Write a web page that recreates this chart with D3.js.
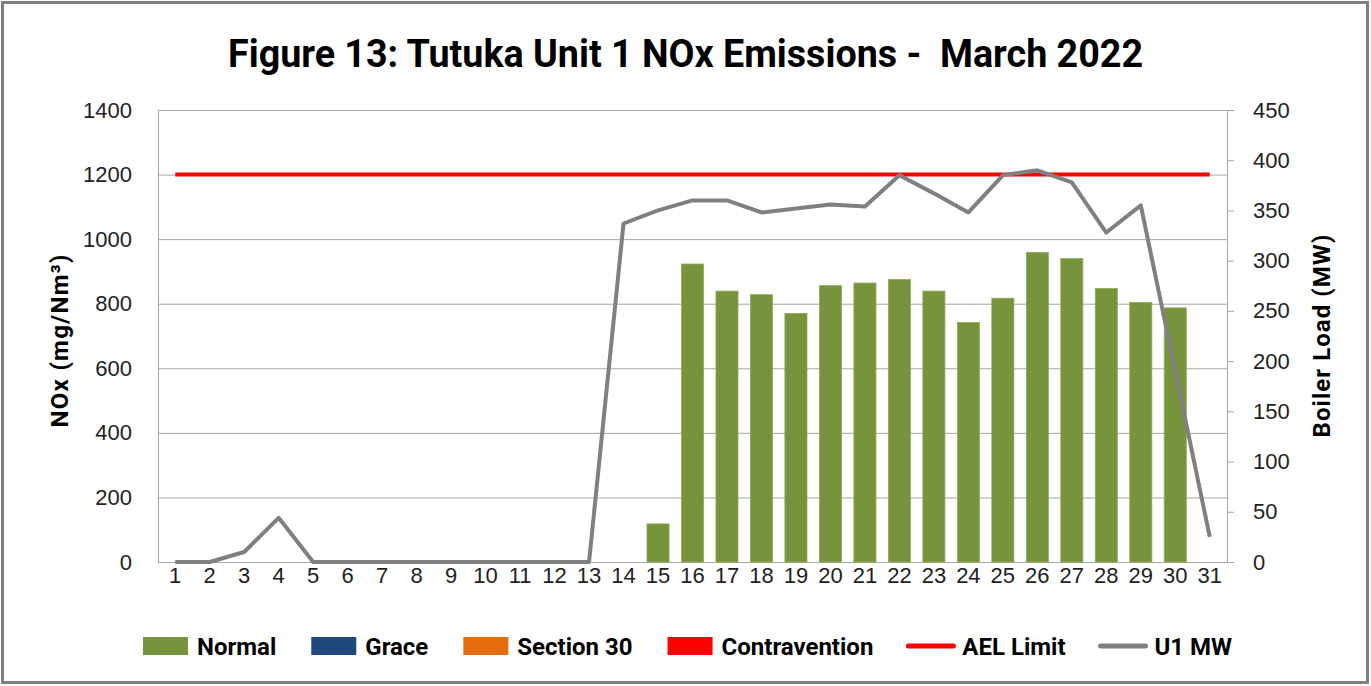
<!DOCTYPE html>
<html>
<head>
<meta charset="utf-8">
<script src="https://cdn.jsdelivr.net/npm/d3@7"></script>
<style>
    body { margin: 0; background: #fff; }
    svg { display: block; font-family: Roboto, 'Liberation Sans', sans-serif; }
    .axis text { font-size: 22px; fill: #222; }
    .axis path, .axis line { stroke: #a6a6a6; }
</style>
</head>
<body>
<div id="chart"></div>
<script>
// Day labels along the x axis
var days = ['1','2','3','4','5','6','7','8','9','10','11','12','13','14','15','16',
            '17','18','19','20','21','22','23','24','25','26','27','28','29','30','31'];

// NOx (mg/Nm3) per day, by category
var normal = [null,null,null,null,null,null,null,null,null,null,null,null,null,null,
              118,923,839,828,770,856,864,875,839,742,817,959,940,847,804,787,null];
var grace = [];
var section30 = [];
var contravention = [];

// AEL limit (mg/Nm3) and unit load (MW)
var aelLimit = [1200,1200,1200,1200,1200,1200,1200,1200,1200,1200,1200,1200,1200,1200,1200,1200,
                1200,1200,1200,1200,1200,1200,1200,1200,1200,1200,1200,1200,1200,1200,1200];
var u1MW = [0,0,10,44,0,0,0,0,0,0,0,0,0,337,350,360,360,348,352,356,354,385,367,348,385,390,378,328,355,190,25];

var leftTicks = [0,200,400,600,800,1000,1200,1400];
var rightTicks = [0,50,100,150,200,250,300,350,400,450];

var legendItems = [
    {name: 'Normal', type: 'rect', color: '#77933c'},
    {name: 'Grace', type: 'rect', color: '#1f497d'},
    {name: 'Section 30', type: 'rect', color: '#e46c0a'},
    {name: 'Contravention', type: 'rect', color: '#ff0000'},
    {name: 'AEL Limit', type: 'line', color: '#ff0000'},
    {name: 'U1 MW', type: 'line', color: '#808080'}
];

var width = 1371, height = 686;
var plot = {left: 158, right: 1227, top: 110, bottom: 562};

var svg = d3.select('#chart').append('svg')
    .attr('width', width)
    .attr('height', height);

// Outer frame
svg.append('rect')
    .attr('x', 2.5).attr('y', 2.5)
    .attr('width', width - 6).attr('height', height - 6)
    .attr('fill', '#fff')
    .attr('stroke', '#808080')
    .attr('stroke-width', 3);

// Title
svg.append('text')
    .attr('x', 685.5)
    .attr('y', 67)
    .attr('text-anchor', 'middle')
    .attr('font-size', 39)
    .attr('font-weight', 'bold')
    .attr('textLength', 915)
    .attr('lengthAdjust', 'spacingAndGlyphs')
    .style('white-space', 'pre')
    .text('Figure 13: Tutuka Unit 1 NOx Emissions -  March 2022');

// Scales
var xScale = d3.scaleBand().domain(days)
    .range([plot.left, plot.right])
    .paddingInner(0.36).paddingOuter(0.18);
var yScale = d3.scaleLinear().domain([0, 1400]).range([plot.bottom, plot.top]);
var yRight = d3.scaleLinear().domain([0, 450]).range([plot.bottom, plot.top]);

// Left axis with gridlines
var yAxis = d3.axisLeft(yScale).tickValues(leftTicks).tickFormat(d3.format('d'))
    .tickSize(-(plot.right - plot.left)).tickSizeOuter(0).tickPadding(26);
svg.append('g')
    .attr('class', 'axis y-axis')
    .attr('transform', 'translate(' + plot.left + ',0)')
    .call(yAxis);

// Right axis
var yAxisRight = d3.axisRight(yRight).tickValues(rightTicks).tickFormat(d3.format('d'))
    .tickSize(7).tickSizeOuter(0).tickPadding(19);
svg.append('g')
    .attr('class', 'axis y-right')
    .attr('transform', 'translate(' + plot.right + ',0)')
    .call(yAxisRight);

// Bottom axis
var xAxis = d3.axisBottom(xScale).tickSize(0).tickPadding(5);
svg.append('g')
    .attr('class', 'axis x-axis')
    .attr('transform', 'translate(0,' + plot.bottom + ')')
    .call(xAxis);

// Axis titles
svg.append('text')
    .attr('transform', 'translate(68,341) rotate(-90)')
    .attr('text-anchor', 'middle')
    .attr('font-size', 24)
    .attr('font-weight', 'bold')
    .attr('textLength', 173)
    .attr('lengthAdjust', 'spacing')
    .text('NOx (mg/Nm³)');

svg.append('text')
    .attr('transform', 'translate(1330,336) rotate(-90)')
    .attr('text-anchor', 'middle')
    .attr('font-size', 24)
    .attr('font-weight', 'bold')
    .attr('textLength', 203)
    .attr('lengthAdjust', 'spacing')
    .text('Boiler Load (MW)');

// Bars
var barData = days.map(function(d, i) { return {day: d, v: normal[i]}; })
    .filter(function(d) { return d.v != null; });

svg.append('g').selectAll('rect')
    .data(barData)
    .enter().append('rect')
    .attr('x', function(d) { return xScale(d.day); })
    .attr('y', function(d) { return yScale(d.v); })
    .attr('width', xScale.bandwidth())
    .attr('height', function(d) { return plot.bottom - yScale(d.v); })
    .attr('fill', '#77933c')
    .attr('stroke', '#8fab55')
    .attr('stroke-width', 0.8);

// Lines
var cx = function(d, i) { return xScale(days[i]) + xScale.bandwidth() / 2; };

var aelLine = d3.line().x(cx).y(function(d) { return yScale(d); });
svg.append('path')
    .attr('d', aelLine(aelLimit))
    .attr('fill', 'none')
    .attr('stroke', '#ff0000')
    .attr('stroke-width', 4);

var mwLine = d3.line().x(cx).y(function(d) { return yRight(d); });
svg.append('path')
    .attr('d', mwLine(u1MW))
    .attr('fill', 'none')
    .attr('stroke', '#808080')
    .attr('stroke-width', 4)
    .attr('stroke-linejoin', 'round');

// Legend
var legend = svg.append('g').attr('class', 'legend');
var lx = 143;
legendItems.forEach(function(item) {
    if (item.type === 'rect') {
        legend.append('rect')
            .attr('x', lx).attr('y', 637)
            .attr('width', 45).attr('height', 18)
            .attr('fill', item.color);
    } else {
        legend.append('line')
            .attr('x1', lx).attr('x2', lx + 45)
            .attr('y1', 646).attr('y2', 646)
            .attr('stroke', item.color)
            .attr('stroke-width', 5)
            .attr('stroke-linecap', 'round');
    }
    var t = legend.append('text')
        .attr('x', lx + 54).attr('y', 655)
        .attr('font-size', 24)
        .attr('font-weight', 'bold')
        .text(item.name);
    lx += 54 + t.node().getComputedTextLength() + 35;
});
</script>
</body>
</html>
